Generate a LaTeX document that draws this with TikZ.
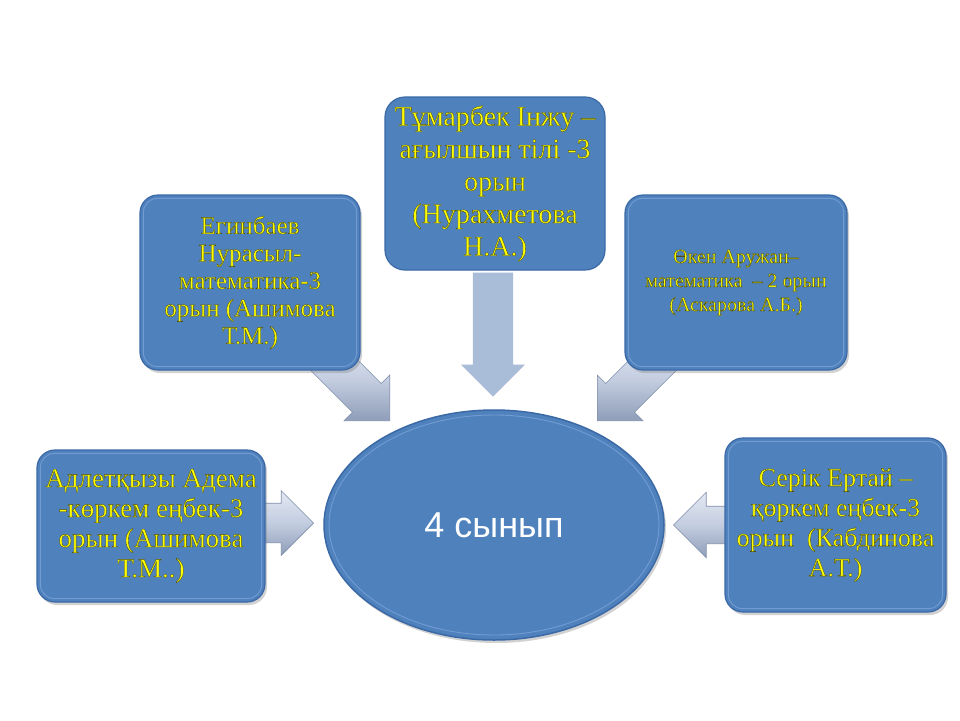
\documentclass[tikz,border=0pt]{standalone}
\usepackage{fontspec}
\setmainfont{Liberation Serif}
\newfontfamily\sansfam{Liberation Sans}
\usetikzlibrary{shapes.arrows,shapes.geometric,shadows}
\definecolor{boxblue}{HTML}{4F81BD}
\definecolor{boxedge}{HTML}{3A69A6}
\definecolor{boxrim}{HTML}{7BA3D6}
\definecolor{txtyellow}{HTML}{FFFF00}
\definecolor{arrowlight}{HTML}{E4E9F2}
\definecolor{arrowmid}{HTML}{C3CDE0}
\definecolor{arrowdark}{HTML}{8E9DB8}
\definecolor{arrowedge}{HTML}{7F8FAA}
\definecolor{flatarrow}{HTML}{A9BCD8}
\newcommand\outl[1]{\special{pdf:literal direct 2 Tr 0.35 w 0.3 0.3 0.05 RG}#1\special{pdf:literal direct 0 Tr}}
\tikzset{
  box/.style={rectangle, rounded corners=18pt, fill=boxblue, draw=boxedge,
    line width=1.2pt, align=center, text=txtyellow, inner sep=2pt},
  shadowed/.style={drop shadow={opacity=0.35, shadow xshift=2pt, shadow yshift=-3pt}},
  rim/.style={draw=boxrim, line width=0.9pt, opacity=0.8},
  sarrow/.style={single arrow, single arrow head extend=12pt, inner xsep=0pt,
    inner ysep=20pt, top color=arrowlight, bottom color=arrowdark,
    middle color=arrowmid, draw=arrowedge, line width=0.6pt},
}
\begin{document}
\begin{tikzpicture}[x=1pt,y=-1pt]
\useasboundingbox[fill=white] (0,0) rectangle (960,720);
% arrows (drawn first, boxes cover their tails)
\node[single arrow, single arrow head extend=12pt, inner xsep=0pt, inner ysep=20pt,
  minimum height=124pt, fill=flatarrow, rotate=-90, anchor=tip]
  (atop) at (493,397) {};
\node[sarrow, minimum height=95pt, rotate=-45, anchor=tip] (aul) at (390,421) {};
\node[sarrow, minimum height=95pt, rotate=-135, anchor=tip] (aur) at (597,421) {};
\node[sarrow, minimum height=62pt, inner ysep=19.5pt, single arrow head extend=12.5pt,
  rotate=0, anchor=tip] (al) at (314,523) {};
\node[sarrow, minimum height=64pt, inner ysep=18.5pt, single arrow head extend=14pt,
  rotate=180, anchor=tip] (ar) at (673,525) {};
% boxes
\node[box, minimum width=220pt, minimum height=173pt, rounded corners=20pt,
  font=\fontsize{28}{32.5}\selectfont] (top) at (495,183.5)
  {\outl{Тұмарбек Інжу –\\ағылшын тілі -3\\орын\\(Нурахметова\\Н.А.)}};
\node[box, shadowed, minimum width=220pt, minimum height=175pt,
  font=\fontsize{25}{27.5}\selectfont] (ul) at (250,282.5)
  {\outl{Егинбаев\\Нурасыл-\\математика-3\\орын (Ашимова\\Т.М.)}};
\node[box, shadowed, minimum width=222pt, minimum height=175pt,
  font=\fontsize{20}{24}\selectfont] (ur) at (736,282.5)
  {\outl{Өкен Аружан–\\математика \ – 2 орын\\(Аскарова А.Б.)}};
\node[box, shadowed, minimum width=228pt, minimum height=152pt,
  font=\fontsize{27}{30}\selectfont] (lb) at (151,526)
  {\outl{Адлетқызы Адема\\-көркем еңбек-3\\орын (Ашимова\\Т.М..)}};
\node[box, shadowed, minimum width=221pt, minimum height=174pt,
  font=\fontsize{26}{30}\selectfont] (rb) at (835.5,525)
  {\outl{Серік Ертай –\\қөркем еңбек-3\\орын \ (Кабдинова\\А.Т.)}};
% bevel rims
\foreach \b in {ul,ur,lb,rb}
  \draw[rim, rounded corners=14pt] ([shift={(4pt,-4pt)}]\b.north west)
    rectangle ([shift={(-4pt,4pt)}]\b.south east);
% central ellipse
\node[ellipse, shadowed, minimum width=340pt, minimum height=230pt, fill=boxblue,
  draw=boxedge, line width=1.5pt, text=white,
  font=\sansfam\fontsize{36}{42}\selectfont] (c) at (494,525) {4 сынып};
\draw[rim] (c.center) ellipse [x radius=165, y radius=110];
\end{tikzpicture}
\end{document}
